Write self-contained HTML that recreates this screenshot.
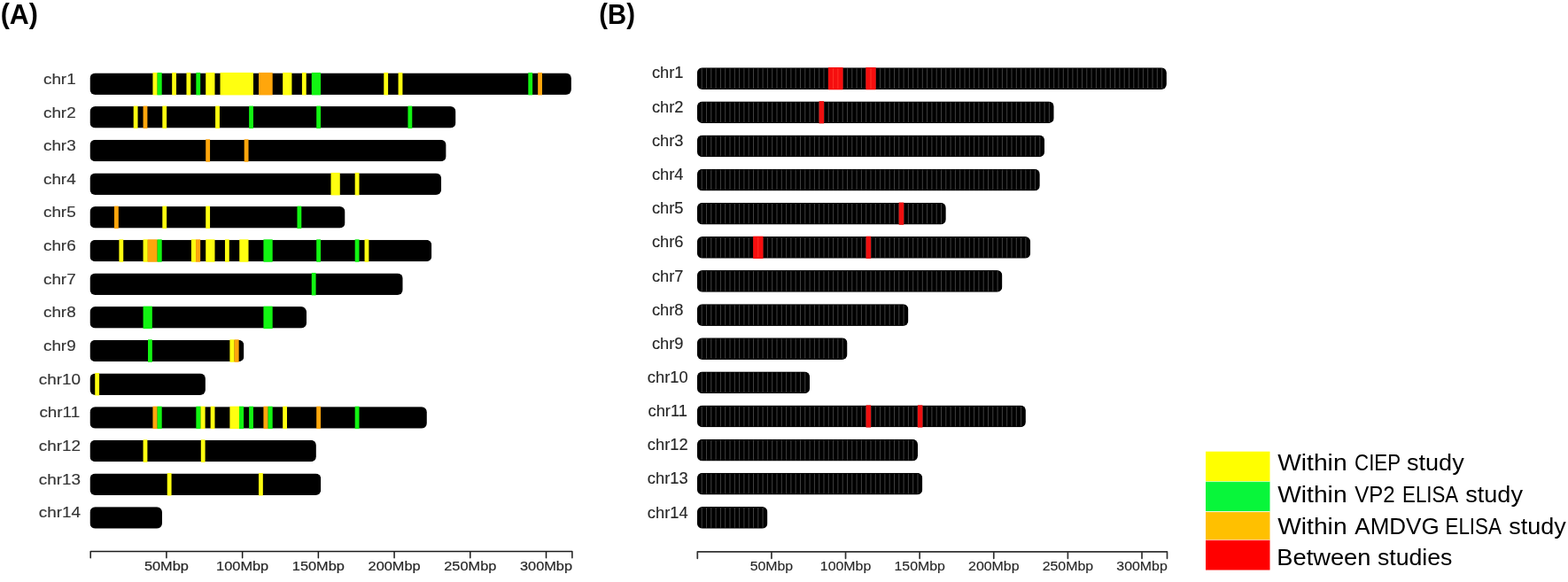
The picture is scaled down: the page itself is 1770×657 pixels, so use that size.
<!DOCTYPE html>
<html lang="en">
<head>
<meta charset="utf-8">
<title>Chromosome ideograms</title>
<style>
html,body{margin:0;padding:0;background:#fff;}
body{width:1770px;height:657px;overflow:hidden;}
svg{display:block;}
text{font-family:"Liberation Sans",sans-serif;}
.lab{fill:#333333;stroke:#333333;stroke-width:0.15px;}
.ax{fill:#262626;stroke:#262626;stroke-width:0.2px;}
.labB{fill:#262626;stroke:#262626;stroke-width:0.15px;}
.axB{fill:#262626;stroke:#262626;stroke-width:0.15px;}
.ttl{font-weight:bold;fill:#000;}
.leg{fill:#000;}
</style>
</head>
<body>
<svg width="1770" height="657" viewBox="0 0 1770 657">
<defs>
<clipPath id="cA1"><rect x="101.5" y="82.4" width="543.4" height="24.5" rx="6" ry="6"/></clipPath>
<clipPath id="cA2"><rect x="101.5" y="120.08" width="412.98" height="24.5" rx="6" ry="6"/></clipPath>
<clipPath id="cA3"><rect x="101.5" y="157.75" width="402.12" height="24.5" rx="6" ry="6"/></clipPath>
<clipPath id="cA4"><rect x="101.5" y="195.43" width="396.68" height="24.5" rx="6" ry="6"/></clipPath>
<clipPath id="cA5"><rect x="101.5" y="233.1" width="288" height="24.5" rx="6" ry="6"/></clipPath>
<clipPath id="cA6"><rect x="101.5" y="270.77" width="385.81" height="24.5" rx="6" ry="6"/></clipPath>
<clipPath id="cA7"><rect x="101.5" y="308.45" width="353.21" height="24.5" rx="6" ry="6"/></clipPath>
<clipPath id="cA8"><rect x="101.5" y="346.12" width="244.53" height="24.5" rx="6" ry="6"/></clipPath>
<clipPath id="cA9"><rect x="101.5" y="383.8" width="173.89" height="24.5" rx="6" ry="6"/></clipPath>
<clipPath id="cA10"><rect x="101.5" y="421.48" width="130.42" height="24.5" rx="6" ry="6"/></clipPath>
<clipPath id="cA11"><rect x="101.5" y="459.15" width="380.38" height="24.5" rx="6" ry="6"/></clipPath>
<clipPath id="cA12"><rect x="101.5" y="496.82" width="255.4" height="24.5" rx="6" ry="6"/></clipPath>
<clipPath id="cA13"><rect x="101.5" y="534.5" width="260.83" height="24.5" rx="6" ry="6"/></clipPath>
<clipPath id="cA14"><rect x="101.5" y="572.17" width="81.51" height="24.5" rx="6" ry="6"/></clipPath>
<clipPath id="cB1"><rect x="786.9" y="76.3" width="530" height="24.7" rx="6" ry="6"/></clipPath>
<clipPath id="cB2"><rect x="786.9" y="114.43" width="402.8" height="24.7" rx="6" ry="6"/></clipPath>
<clipPath id="cB3"><rect x="786.9" y="152.56" width="392.2" height="24.7" rx="6" ry="6"/></clipPath>
<clipPath id="cB4"><rect x="786.9" y="190.69" width="386.9" height="24.7" rx="6" ry="6"/></clipPath>
<clipPath id="cB5"><rect x="786.9" y="228.82" width="280.9" height="24.7" rx="6" ry="6"/></clipPath>
<clipPath id="cB6"><rect x="786.9" y="266.95" width="376.3" height="24.7" rx="6" ry="6"/></clipPath>
<clipPath id="cB7"><rect x="786.9" y="305.08" width="344.5" height="24.7" rx="6" ry="6"/></clipPath>
<clipPath id="cB8"><rect x="786.9" y="343.21" width="238.5" height="24.7" rx="6" ry="6"/></clipPath>
<clipPath id="cB9"><rect x="786.9" y="381.34" width="169.6" height="24.7" rx="6" ry="6"/></clipPath>
<clipPath id="cB10"><rect x="786.9" y="419.47" width="127.2" height="24.7" rx="6" ry="6"/></clipPath>
<clipPath id="cB11"><rect x="786.9" y="457.6" width="371" height="24.7" rx="6" ry="6"/></clipPath>
<clipPath id="cB12"><rect x="786.9" y="495.73" width="249.1" height="24.7" rx="6" ry="6"/></clipPath>
<clipPath id="cB13"><rect x="786.9" y="533.86" width="254.4" height="24.7" rx="6" ry="6"/></clipPath>
<clipPath id="cB14"><rect x="786.9" y="571.99" width="79.5" height="24.7" rx="6" ry="6"/></clipPath>
</defs>
<g>
<rect x="-2" y="-2" width="1774" height="661" fill="#fff"/>
<g clip-path="url(#cA1)"><rect x="101.5" y="82.4" width="543.4" height="24.5" fill="#000"/></g><g><rect x="172.44" y="81.9" width="5.28" height="25.5" fill="#ffff10"/><rect x="177.58" y="81.9" width="5.13" height="25.5" fill="#12f412"/><rect x="194.18" y="81.9" width="4.83" height="25.5" fill="#ffff10"/><rect x="210.48" y="81.9" width="4.83" height="25.5" fill="#ffff10"/><rect x="221.35" y="81.9" width="4.83" height="25.5" fill="#12f412"/><rect x="232.22" y="81.9" width="10.27" height="25.5" fill="#ffff10"/><rect x="248.52" y="81.9" width="37.44" height="25.5" fill="#ffff10"/><rect x="291.99" y="81.9" width="15.7" height="25.5" fill="#ffa60c"/><rect x="319.16" y="81.9" width="10.27" height="25.5" fill="#ffff10"/><rect x="340.9" y="81.9" width="4.83" height="25.5" fill="#ffff10"/><rect x="351.76" y="81.9" width="10.27" height="25.5" fill="#12f412"/><rect x="433.27" y="81.9" width="4.83" height="25.5" fill="#ffff10"/><rect x="449.58" y="81.9" width="4.83" height="25.5" fill="#ffff10"/><rect x="596.29" y="81.9" width="4.83" height="25.5" fill="#12f412"/><rect x="607.16" y="81.9" width="4.83" height="25.5" fill="#ffa60c"/></g>
<text class="lab" font-size="17" text-anchor="middle" transform="translate(67.3 95) scale(1.11 1)">chr1</text>
<g clip-path="url(#cA2)"><rect x="101.5" y="120.08" width="412.98" height="24.5" fill="#000"/></g><g><rect x="150.71" y="119.58" width="4.83" height="25.5" fill="#ffff10"/><rect x="161.57" y="119.58" width="4.83" height="25.5" fill="#ffa60c"/><rect x="183.31" y="119.58" width="4.83" height="25.5" fill="#ffff10"/><rect x="243.08" y="119.58" width="4.83" height="25.5" fill="#ffff10"/><rect x="281.12" y="119.58" width="4.83" height="25.5" fill="#12f412"/><rect x="357.2" y="119.58" width="4.83" height="25.5" fill="#12f412"/><rect x="460.44" y="119.58" width="4.83" height="25.5" fill="#12f412"/></g>
<text class="lab" font-size="17" text-anchor="middle" transform="translate(67.3 133) scale(1.11 1)">chr2</text>
<g clip-path="url(#cA3)"><rect x="101.5" y="157.75" width="402.12" height="24.5" fill="#000"/></g><g><rect x="232.22" y="157.25" width="4.83" height="25.5" fill="#ffa60c"/><rect x="275.69" y="157.25" width="4.83" height="25.5" fill="#ffa60c"/></g>
<text class="lab" font-size="17" text-anchor="middle" transform="translate(67.3 170) scale(1.11 1)">chr3</text>
<g clip-path="url(#cA4)"><rect x="101.5" y="195.43" width="396.68" height="24.5" fill="#000"/></g><g><rect x="373.5" y="194.93" width="10.27" height="25.5" fill="#ffff10"/><rect x="400.67" y="194.93" width="4.83" height="25.5" fill="#ffff10"/></g>
<text class="lab" font-size="17" text-anchor="middle" transform="translate(67.3 208) scale(1.11 1)">chr4</text>
<g clip-path="url(#cA5)"><rect x="101.5" y="233.1" width="288" height="24.5" fill="#000"/></g><g><rect x="128.97" y="232.6" width="4.83" height="25.5" fill="#ffa60c"/><rect x="183.31" y="232.6" width="4.83" height="25.5" fill="#ffff10"/><rect x="232.22" y="232.6" width="4.83" height="25.5" fill="#ffff10"/><rect x="335.46" y="232.6" width="4.83" height="25.5" fill="#12f412"/></g>
<text class="lab" font-size="17" text-anchor="middle" transform="translate(67.3 245) scale(1.11 1)">chr5</text>
<g clip-path="url(#cA6)"><rect x="101.5" y="270.77" width="385.81" height="24.5" fill="#000"/></g><g><rect x="134.4" y="270.27" width="4.83" height="25.5" fill="#ffff10"/><rect x="161.57" y="270.27" width="5.28" height="25.5" fill="#ffff10"/><rect x="166.71" y="270.27" width="11.02" height="25.5" fill="#ffa60c"/><rect x="177.58" y="270.27" width="5.13" height="25.5" fill="#12f412"/><rect x="215.91" y="270.27" width="5.28" height="25.5" fill="#ffff10"/><rect x="221.05" y="270.27" width="5.13" height="25.5" fill="#ffa60c"/><rect x="232.22" y="270.27" width="10.27" height="25.5" fill="#ffff10"/><rect x="253.95" y="270.27" width="4.83" height="25.5" fill="#ffff10"/><rect x="270.25" y="270.27" width="10.27" height="25.5" fill="#ffff10"/><rect x="297.42" y="270.27" width="10.27" height="25.5" fill="#12f412"/><rect x="357.2" y="270.27" width="4.83" height="25.5" fill="#12f412"/><rect x="400.67" y="270.27" width="4.83" height="25.5" fill="#12f412"/><rect x="411.54" y="270.27" width="4.83" height="25.5" fill="#ffff10"/></g>
<text class="lab" font-size="17" text-anchor="middle" transform="translate(67.3 283) scale(1.11 1)">chr6</text>
<g clip-path="url(#cA7)"><rect x="101.5" y="308.45" width="353.21" height="24.5" fill="#000"/></g><g><rect x="351.76" y="307.95" width="4.83" height="25.5" fill="#12f412"/></g>
<text class="lab" font-size="17" text-anchor="middle" transform="translate(67.3 321) scale(1.11 1)">chr7</text>
<g clip-path="url(#cA8)"><rect x="101.5" y="346.12" width="244.53" height="24.5" fill="#000"/></g><g><rect x="161.57" y="345.62" width="10.27" height="25.5" fill="#12f412"/><rect x="297.42" y="345.62" width="10.27" height="25.5" fill="#12f412"/></g>
<text class="lab" font-size="17" text-anchor="middle" transform="translate(67.3 358) scale(1.11 1)">chr8</text>
<g clip-path="url(#cA9)"><rect x="101.5" y="383.8" width="173.89" height="24.5" fill="#000"/></g><g><rect x="167.01" y="383.3" width="4.83" height="25.5" fill="#12f412"/><rect x="259.39" y="383.3" width="5.28" height="25.5" fill="#ffff10"/><rect x="264.52" y="383.3" width="5.13" height="25.5" fill="#ffa60c"/></g>
<text class="lab" font-size="17" text-anchor="middle" transform="translate(67.3 396) scale(1.11 1)">chr9</text>
<g clip-path="url(#cA10)"><rect x="101.5" y="421.48" width="130.42" height="24.5" fill="#000"/></g><g><rect x="107.23" y="420.98" width="4.83" height="25.5" fill="#ffff10"/></g>
<text class="lab" font-size="17" text-anchor="middle" transform="translate(67.3 434) scale(1.11 1)">chr10</text>
<g clip-path="url(#cA11)"><rect x="101.5" y="459.15" width="380.38" height="24.5" fill="#000"/></g><g><rect x="172.44" y="458.65" width="5.28" height="25.5" fill="#ffa60c"/><rect x="177.58" y="458.65" width="5.13" height="25.5" fill="#12f412"/><rect x="221.35" y="458.65" width="5.28" height="25.5" fill="#12f412"/><rect x="226.48" y="458.65" width="5.13" height="25.5" fill="#ffff10"/><rect x="237.65" y="458.65" width="4.83" height="25.5" fill="#ffff10"/><rect x="259.39" y="458.65" width="10.72" height="25.5" fill="#ffff10"/><rect x="269.95" y="458.65" width="5.13" height="25.5" fill="#12f412"/><rect x="281.12" y="458.65" width="4.83" height="25.5" fill="#12f412"/><rect x="297.42" y="458.65" width="5.28" height="25.5" fill="#ffa60c"/><rect x="302.56" y="458.65" width="5.13" height="25.5" fill="#12f412"/><rect x="319.16" y="458.65" width="4.83" height="25.5" fill="#ffff10"/><rect x="357.2" y="458.65" width="4.83" height="25.5" fill="#ffa60c"/><rect x="400.67" y="458.65" width="4.83" height="25.5" fill="#12f412"/></g>
<text class="lab" font-size="17" text-anchor="middle" transform="translate(67.3 471) scale(1.11 1)">chr11</text>
<g clip-path="url(#cA12)"><rect x="101.5" y="496.82" width="255.4" height="24.5" fill="#000"/></g><g><rect x="161.57" y="496.32" width="4.83" height="25.5" fill="#ffff10"/><rect x="226.78" y="496.32" width="4.83" height="25.5" fill="#ffff10"/></g>
<text class="lab" font-size="17" text-anchor="middle" transform="translate(67.3 509) scale(1.11 1)">chr12</text>
<g clip-path="url(#cA13)"><rect x="101.5" y="534.5" width="260.83" height="24.5" fill="#000"/></g><g><rect x="188.74" y="534" width="4.83" height="25.5" fill="#ffff10"/><rect x="291.99" y="534" width="4.83" height="25.5" fill="#ffff10"/></g>
<text class="lab" font-size="17" text-anchor="middle" transform="translate(67.3 547) scale(1.11 1)">chr13</text>
<g clip-path="url(#cA14)"><rect x="101.5" y="572.17" width="81.51" height="24.5" fill="#000"/></g><g></g>
<text class="lab" font-size="17" text-anchor="middle" transform="translate(67.3 584) scale(1.11 1)">chr14</text>
<path d="M102.2 629.7V622.5H645.9V629.7M187.92 622.5V629.7M273.64 622.5V629.7M359.36 622.5V629.7M445.08 622.5V629.7M530.8 622.5V629.7M616.52 622.5V629.7" stroke="#1c1c1c" stroke-width="1.5" stroke-linejoin="round" stroke-linecap="round" fill="none"/>
<text class="ax" font-size="15.5" text-anchor="middle" transform="translate(187.92 643.7) scale(1.055 1)">50Mbp</text>
<text class="ax" font-size="15.5" text-anchor="middle" transform="translate(273.64 643.7) scale(1.055 1)">100Mbp</text>
<text class="ax" font-size="15.5" text-anchor="middle" transform="translate(359.36 643.7) scale(1.055 1)">150Mbp</text>
<text class="ax" font-size="15.5" text-anchor="middle" transform="translate(445.08 643.7) scale(1.055 1)">200Mbp</text>
<text class="ax" font-size="15.5" text-anchor="middle" transform="translate(530.8 643.7) scale(1.055 1)">250Mbp</text>
<text class="ax" font-size="15.5" text-anchor="middle" transform="translate(616.52 643.7) scale(1.055 1)">300Mbp</text>
<g clip-path="url(#cB1)"><rect x="786.9" y="76.3" width="530" height="24.7" fill="#000"/><path d="M792.2 77.3V100M797.5 77.3V100M802.8 77.3V100M808.1 77.3V100M813.4 77.3V100M818.7 77.3V100M824 77.3V100M829.3 77.3V100M834.6 77.3V100M839.9 77.3V100M845.2 77.3V100M850.5 77.3V100M855.8 77.3V100M861.1 77.3V100M866.4 77.3V100M871.7 77.3V100M877 77.3V100M882.3 77.3V100M887.6 77.3V100M892.9 77.3V100M898.2 77.3V100M903.5 77.3V100M908.8 77.3V100M914.1 77.3V100M919.4 77.3V100M924.7 77.3V100M930 77.3V100M935.3 77.3V100M940.6 77.3V100M945.9 77.3V100M951.2 77.3V100M956.5 77.3V100M961.8 77.3V100M967.1 77.3V100M972.4 77.3V100M977.7 77.3V100M983 77.3V100M988.3 77.3V100M993.6 77.3V100M998.9 77.3V100M1004.2 77.3V100M1009.5 77.3V100M1014.8 77.3V100M1020.1 77.3V100M1025.4 77.3V100M1030.7 77.3V100M1036 77.3V100M1041.3 77.3V100M1046.6 77.3V100M1051.9 77.3V100M1057.2 77.3V100M1062.5 77.3V100M1067.8 77.3V100M1073.1 77.3V100M1078.4 77.3V100M1083.7 77.3V100M1089 77.3V100M1094.3 77.3V100M1099.6 77.3V100M1104.9 77.3V100M1110.2 77.3V100M1115.5 77.3V100M1120.8 77.3V100M1126.1 77.3V100M1131.4 77.3V100M1136.7 77.3V100M1142 77.3V100M1147.3 77.3V100M1152.6 77.3V100M1157.9 77.3V100M1163.2 77.3V100M1168.5 77.3V100M1173.8 77.3V100M1179.1 77.3V100M1184.4 77.3V100M1189.7 77.3V100M1195 77.3V100M1200.3 77.3V100M1205.6 77.3V100M1210.9 77.3V100M1216.2 77.3V100M1221.5 77.3V100M1226.8 77.3V100M1232.1 77.3V100M1237.4 77.3V100M1242.7 77.3V100M1248 77.3V100M1253.3 77.3V100M1258.6 77.3V100M1263.9 77.3V100M1269.2 77.3V100M1274.5 77.3V100M1279.8 77.3V100M1285.1 77.3V100M1290.4 77.3V100M1295.7 77.3V100M1301 77.3V100M1306.3 77.3V100M1311.6 77.3V100" stroke="#404040" stroke-width="1" fill="none"/></g><g><rect x="934.95" y="76" width="16.6" height="25.3" fill="#f60e0e"/><path d="M940.6 77.3V100M945.9 77.3V100" stroke="#ff3328" stroke-width="1" fill="none"/><rect x="977.35" y="76" width="11.3" height="25.3" fill="#f60e0e"/><path d="M983 77.3V100" stroke="#ff3328" stroke-width="1" fill="none"/></g>
<text class="labB" font-size="18" text-anchor="middle" transform="translate(753.7 88) scale(1.015 1)">chr1</text>
<g clip-path="url(#cB2)"><rect x="786.9" y="114.43" width="402.8" height="24.7" fill="#000"/><path d="M792.2 115.43V138.13M797.5 115.43V138.13M802.8 115.43V138.13M808.1 115.43V138.13M813.4 115.43V138.13M818.7 115.43V138.13M824 115.43V138.13M829.3 115.43V138.13M834.6 115.43V138.13M839.9 115.43V138.13M845.2 115.43V138.13M850.5 115.43V138.13M855.8 115.43V138.13M861.1 115.43V138.13M866.4 115.43V138.13M871.7 115.43V138.13M877 115.43V138.13M882.3 115.43V138.13M887.6 115.43V138.13M892.9 115.43V138.13M898.2 115.43V138.13M903.5 115.43V138.13M908.8 115.43V138.13M914.1 115.43V138.13M919.4 115.43V138.13M924.7 115.43V138.13M930 115.43V138.13M935.3 115.43V138.13M940.6 115.43V138.13M945.9 115.43V138.13M951.2 115.43V138.13M956.5 115.43V138.13M961.8 115.43V138.13M967.1 115.43V138.13M972.4 115.43V138.13M977.7 115.43V138.13M983 115.43V138.13M988.3 115.43V138.13M993.6 115.43V138.13M998.9 115.43V138.13M1004.2 115.43V138.13M1009.5 115.43V138.13M1014.8 115.43V138.13M1020.1 115.43V138.13M1025.4 115.43V138.13M1030.7 115.43V138.13M1036 115.43V138.13M1041.3 115.43V138.13M1046.6 115.43V138.13M1051.9 115.43V138.13M1057.2 115.43V138.13M1062.5 115.43V138.13M1067.8 115.43V138.13M1073.1 115.43V138.13M1078.4 115.43V138.13M1083.7 115.43V138.13M1089 115.43V138.13M1094.3 115.43V138.13M1099.6 115.43V138.13M1104.9 115.43V138.13M1110.2 115.43V138.13M1115.5 115.43V138.13M1120.8 115.43V138.13M1126.1 115.43V138.13M1131.4 115.43V138.13M1136.7 115.43V138.13M1142 115.43V138.13M1147.3 115.43V138.13M1152.6 115.43V138.13M1157.9 115.43V138.13M1163.2 115.43V138.13M1168.5 115.43V138.13M1173.8 115.43V138.13M1179.1 115.43V138.13M1184.4 115.43V138.13" stroke="#404040" stroke-width="1" fill="none"/></g><g><rect x="924.6" y="114.13" width="5.5" height="25.3" fill="#ee1010"/></g>
<text class="labB" font-size="18" text-anchor="middle" transform="translate(753.7 127) scale(1.015 1)">chr2</text>
<g clip-path="url(#cB3)"><rect x="786.9" y="152.56" width="392.2" height="24.7" fill="#000"/><path d="M792.2 153.56V176.26M797.5 153.56V176.26M802.8 153.56V176.26M808.1 153.56V176.26M813.4 153.56V176.26M818.7 153.56V176.26M824 153.56V176.26M829.3 153.56V176.26M834.6 153.56V176.26M839.9 153.56V176.26M845.2 153.56V176.26M850.5 153.56V176.26M855.8 153.56V176.26M861.1 153.56V176.26M866.4 153.56V176.26M871.7 153.56V176.26M877 153.56V176.26M882.3 153.56V176.26M887.6 153.56V176.26M892.9 153.56V176.26M898.2 153.56V176.26M903.5 153.56V176.26M908.8 153.56V176.26M914.1 153.56V176.26M919.4 153.56V176.26M924.7 153.56V176.26M930 153.56V176.26M935.3 153.56V176.26M940.6 153.56V176.26M945.9 153.56V176.26M951.2 153.56V176.26M956.5 153.56V176.26M961.8 153.56V176.26M967.1 153.56V176.26M972.4 153.56V176.26M977.7 153.56V176.26M983 153.56V176.26M988.3 153.56V176.26M993.6 153.56V176.26M998.9 153.56V176.26M1004.2 153.56V176.26M1009.5 153.56V176.26M1014.8 153.56V176.26M1020.1 153.56V176.26M1025.4 153.56V176.26M1030.7 153.56V176.26M1036 153.56V176.26M1041.3 153.56V176.26M1046.6 153.56V176.26M1051.9 153.56V176.26M1057.2 153.56V176.26M1062.5 153.56V176.26M1067.8 153.56V176.26M1073.1 153.56V176.26M1078.4 153.56V176.26M1083.7 153.56V176.26M1089 153.56V176.26M1094.3 153.56V176.26M1099.6 153.56V176.26M1104.9 153.56V176.26M1110.2 153.56V176.26M1115.5 153.56V176.26M1120.8 153.56V176.26M1126.1 153.56V176.26M1131.4 153.56V176.26M1136.7 153.56V176.26M1142 153.56V176.26M1147.3 153.56V176.26M1152.6 153.56V176.26M1157.9 153.56V176.26M1163.2 153.56V176.26M1168.5 153.56V176.26M1173.8 153.56V176.26" stroke="#404040" stroke-width="1" fill="none"/></g><g></g>
<text class="labB" font-size="18" text-anchor="middle" transform="translate(753.7 165) scale(1.015 1)">chr3</text>
<g clip-path="url(#cB4)"><rect x="786.9" y="190.69" width="386.9" height="24.7" fill="#000"/><path d="M792.2 191.69V214.39M797.5 191.69V214.39M802.8 191.69V214.39M808.1 191.69V214.39M813.4 191.69V214.39M818.7 191.69V214.39M824 191.69V214.39M829.3 191.69V214.39M834.6 191.69V214.39M839.9 191.69V214.39M845.2 191.69V214.39M850.5 191.69V214.39M855.8 191.69V214.39M861.1 191.69V214.39M866.4 191.69V214.39M871.7 191.69V214.39M877 191.69V214.39M882.3 191.69V214.39M887.6 191.69V214.39M892.9 191.69V214.39M898.2 191.69V214.39M903.5 191.69V214.39M908.8 191.69V214.39M914.1 191.69V214.39M919.4 191.69V214.39M924.7 191.69V214.39M930 191.69V214.39M935.3 191.69V214.39M940.6 191.69V214.39M945.9 191.69V214.39M951.2 191.69V214.39M956.5 191.69V214.39M961.8 191.69V214.39M967.1 191.69V214.39M972.4 191.69V214.39M977.7 191.69V214.39M983 191.69V214.39M988.3 191.69V214.39M993.6 191.69V214.39M998.9 191.69V214.39M1004.2 191.69V214.39M1009.5 191.69V214.39M1014.8 191.69V214.39M1020.1 191.69V214.39M1025.4 191.69V214.39M1030.7 191.69V214.39M1036 191.69V214.39M1041.3 191.69V214.39M1046.6 191.69V214.39M1051.9 191.69V214.39M1057.2 191.69V214.39M1062.5 191.69V214.39M1067.8 191.69V214.39M1073.1 191.69V214.39M1078.4 191.69V214.39M1083.7 191.69V214.39M1089 191.69V214.39M1094.3 191.69V214.39M1099.6 191.69V214.39M1104.9 191.69V214.39M1110.2 191.69V214.39M1115.5 191.69V214.39M1120.8 191.69V214.39M1126.1 191.69V214.39M1131.4 191.69V214.39M1136.7 191.69V214.39M1142 191.69V214.39M1147.3 191.69V214.39M1152.6 191.69V214.39M1157.9 191.69V214.39M1163.2 191.69V214.39M1168.5 191.69V214.39" stroke="#404040" stroke-width="1" fill="none"/></g><g></g>
<text class="labB" font-size="18" text-anchor="middle" transform="translate(753.7 203) scale(1.015 1)">chr4</text>
<g clip-path="url(#cB5)"><rect x="786.9" y="228.82" width="280.9" height="24.7" fill="#000"/><path d="M792.2 229.82V252.52M797.5 229.82V252.52M802.8 229.82V252.52M808.1 229.82V252.52M813.4 229.82V252.52M818.7 229.82V252.52M824 229.82V252.52M829.3 229.82V252.52M834.6 229.82V252.52M839.9 229.82V252.52M845.2 229.82V252.52M850.5 229.82V252.52M855.8 229.82V252.52M861.1 229.82V252.52M866.4 229.82V252.52M871.7 229.82V252.52M877 229.82V252.52M882.3 229.82V252.52M887.6 229.82V252.52M892.9 229.82V252.52M898.2 229.82V252.52M903.5 229.82V252.52M908.8 229.82V252.52M914.1 229.82V252.52M919.4 229.82V252.52M924.7 229.82V252.52M930 229.82V252.52M935.3 229.82V252.52M940.6 229.82V252.52M945.9 229.82V252.52M951.2 229.82V252.52M956.5 229.82V252.52M961.8 229.82V252.52M967.1 229.82V252.52M972.4 229.82V252.52M977.7 229.82V252.52M983 229.82V252.52M988.3 229.82V252.52M993.6 229.82V252.52M998.9 229.82V252.52M1004.2 229.82V252.52M1009.5 229.82V252.52M1014.8 229.82V252.52M1020.1 229.82V252.52M1025.4 229.82V252.52M1030.7 229.82V252.52M1036 229.82V252.52M1041.3 229.82V252.52M1046.6 229.82V252.52M1051.9 229.82V252.52M1057.2 229.82V252.52M1062.5 229.82V252.52" stroke="#404040" stroke-width="1" fill="none"/></g><g><rect x="1014.7" y="228.52" width="5.5" height="25.3" fill="#ee1010"/></g>
<text class="labB" font-size="18" text-anchor="middle" transform="translate(753.7 241) scale(1.015 1)">chr5</text>
<g clip-path="url(#cB6)"><rect x="786.9" y="266.95" width="376.3" height="24.7" fill="#000"/><path d="M792.2 267.95V290.65M797.5 267.95V290.65M802.8 267.95V290.65M808.1 267.95V290.65M813.4 267.95V290.65M818.7 267.95V290.65M824 267.95V290.65M829.3 267.95V290.65M834.6 267.95V290.65M839.9 267.95V290.65M845.2 267.95V290.65M850.5 267.95V290.65M855.8 267.95V290.65M861.1 267.95V290.65M866.4 267.95V290.65M871.7 267.95V290.65M877 267.95V290.65M882.3 267.95V290.65M887.6 267.95V290.65M892.9 267.95V290.65M898.2 267.95V290.65M903.5 267.95V290.65M908.8 267.95V290.65M914.1 267.95V290.65M919.4 267.95V290.65M924.7 267.95V290.65M930 267.95V290.65M935.3 267.95V290.65M940.6 267.95V290.65M945.9 267.95V290.65M951.2 267.95V290.65M956.5 267.95V290.65M961.8 267.95V290.65M967.1 267.95V290.65M972.4 267.95V290.65M977.7 267.95V290.65M983 267.95V290.65M988.3 267.95V290.65M993.6 267.95V290.65M998.9 267.95V290.65M1004.2 267.95V290.65M1009.5 267.95V290.65M1014.8 267.95V290.65M1020.1 267.95V290.65M1025.4 267.95V290.65M1030.7 267.95V290.65M1036 267.95V290.65M1041.3 267.95V290.65M1046.6 267.95V290.65M1051.9 267.95V290.65M1057.2 267.95V290.65M1062.5 267.95V290.65M1067.8 267.95V290.65M1073.1 267.95V290.65M1078.4 267.95V290.65M1083.7 267.95V290.65M1089 267.95V290.65M1094.3 267.95V290.65M1099.6 267.95V290.65M1104.9 267.95V290.65M1110.2 267.95V290.65M1115.5 267.95V290.65M1120.8 267.95V290.65M1126.1 267.95V290.65M1131.4 267.95V290.65M1136.7 267.95V290.65M1142 267.95V290.65M1147.3 267.95V290.65M1152.6 267.95V290.65M1157.9 267.95V290.65" stroke="#404040" stroke-width="1" fill="none"/></g><g><rect x="850.15" y="266.65" width="11.3" height="25.3" fill="#f60e0e"/><path d="M855.8 267.95V290.65" stroke="#ff3328" stroke-width="1" fill="none"/><rect x="977.6" y="266.65" width="5.5" height="25.3" fill="#ee1010"/></g>
<text class="labB" font-size="18" text-anchor="middle" transform="translate(753.7 279) scale(1.015 1)">chr6</text>
<g clip-path="url(#cB7)"><rect x="786.9" y="305.08" width="344.5" height="24.7" fill="#000"/><path d="M792.2 306.08V328.78M797.5 306.08V328.78M802.8 306.08V328.78M808.1 306.08V328.78M813.4 306.08V328.78M818.7 306.08V328.78M824 306.08V328.78M829.3 306.08V328.78M834.6 306.08V328.78M839.9 306.08V328.78M845.2 306.08V328.78M850.5 306.08V328.78M855.8 306.08V328.78M861.1 306.08V328.78M866.4 306.08V328.78M871.7 306.08V328.78M877 306.08V328.78M882.3 306.08V328.78M887.6 306.08V328.78M892.9 306.08V328.78M898.2 306.08V328.78M903.5 306.08V328.78M908.8 306.08V328.78M914.1 306.08V328.78M919.4 306.08V328.78M924.7 306.08V328.78M930 306.08V328.78M935.3 306.08V328.78M940.6 306.08V328.78M945.9 306.08V328.78M951.2 306.08V328.78M956.5 306.08V328.78M961.8 306.08V328.78M967.1 306.08V328.78M972.4 306.08V328.78M977.7 306.08V328.78M983 306.08V328.78M988.3 306.08V328.78M993.6 306.08V328.78M998.9 306.08V328.78M1004.2 306.08V328.78M1009.5 306.08V328.78M1014.8 306.08V328.78M1020.1 306.08V328.78M1025.4 306.08V328.78M1030.7 306.08V328.78M1036 306.08V328.78M1041.3 306.08V328.78M1046.6 306.08V328.78M1051.9 306.08V328.78M1057.2 306.08V328.78M1062.5 306.08V328.78M1067.8 306.08V328.78M1073.1 306.08V328.78M1078.4 306.08V328.78M1083.7 306.08V328.78M1089 306.08V328.78M1094.3 306.08V328.78M1099.6 306.08V328.78M1104.9 306.08V328.78M1110.2 306.08V328.78M1115.5 306.08V328.78M1120.8 306.08V328.78M1126.1 306.08V328.78" stroke="#404040" stroke-width="1" fill="none"/></g><g></g>
<text class="labB" font-size="18" text-anchor="middle" transform="translate(753.7 318) scale(1.015 1)">chr7</text>
<g clip-path="url(#cB8)"><rect x="786.9" y="343.21" width="238.5" height="24.7" fill="#000"/><path d="M792.2 344.21V366.91M797.5 344.21V366.91M802.8 344.21V366.91M808.1 344.21V366.91M813.4 344.21V366.91M818.7 344.21V366.91M824 344.21V366.91M829.3 344.21V366.91M834.6 344.21V366.91M839.9 344.21V366.91M845.2 344.21V366.91M850.5 344.21V366.91M855.8 344.21V366.91M861.1 344.21V366.91M866.4 344.21V366.91M871.7 344.21V366.91M877 344.21V366.91M882.3 344.21V366.91M887.6 344.21V366.91M892.9 344.21V366.91M898.2 344.21V366.91M903.5 344.21V366.91M908.8 344.21V366.91M914.1 344.21V366.91M919.4 344.21V366.91M924.7 344.21V366.91M930 344.21V366.91M935.3 344.21V366.91M940.6 344.21V366.91M945.9 344.21V366.91M951.2 344.21V366.91M956.5 344.21V366.91M961.8 344.21V366.91M967.1 344.21V366.91M972.4 344.21V366.91M977.7 344.21V366.91M983 344.21V366.91M988.3 344.21V366.91M993.6 344.21V366.91M998.9 344.21V366.91M1004.2 344.21V366.91M1009.5 344.21V366.91M1014.8 344.21V366.91M1020.1 344.21V366.91" stroke="#404040" stroke-width="1" fill="none"/></g><g></g>
<text class="labB" font-size="18" text-anchor="middle" transform="translate(753.7 356) scale(1.015 1)">chr8</text>
<g clip-path="url(#cB9)"><rect x="786.9" y="381.34" width="169.6" height="24.7" fill="#000"/><path d="M792.2 382.34V405.04M797.5 382.34V405.04M802.8 382.34V405.04M808.1 382.34V405.04M813.4 382.34V405.04M818.7 382.34V405.04M824 382.34V405.04M829.3 382.34V405.04M834.6 382.34V405.04M839.9 382.34V405.04M845.2 382.34V405.04M850.5 382.34V405.04M855.8 382.34V405.04M861.1 382.34V405.04M866.4 382.34V405.04M871.7 382.34V405.04M877 382.34V405.04M882.3 382.34V405.04M887.6 382.34V405.04M892.9 382.34V405.04M898.2 382.34V405.04M903.5 382.34V405.04M908.8 382.34V405.04M914.1 382.34V405.04M919.4 382.34V405.04M924.7 382.34V405.04M930 382.34V405.04M935.3 382.34V405.04M940.6 382.34V405.04M945.9 382.34V405.04M951.2 382.34V405.04" stroke="#404040" stroke-width="1" fill="none"/></g><g></g>
<text class="labB" font-size="18" text-anchor="middle" transform="translate(753.7 394) scale(1.015 1)">chr9</text>
<g clip-path="url(#cB10)"><rect x="786.9" y="419.47" width="127.2" height="24.7" fill="#000"/><path d="M792.2 420.47V443.17M797.5 420.47V443.17M802.8 420.47V443.17M808.1 420.47V443.17M813.4 420.47V443.17M818.7 420.47V443.17M824 420.47V443.17M829.3 420.47V443.17M834.6 420.47V443.17M839.9 420.47V443.17M845.2 420.47V443.17M850.5 420.47V443.17M855.8 420.47V443.17M861.1 420.47V443.17M866.4 420.47V443.17M871.7 420.47V443.17M877 420.47V443.17M882.3 420.47V443.17M887.6 420.47V443.17M892.9 420.47V443.17M898.2 420.47V443.17M903.5 420.47V443.17M908.8 420.47V443.17" stroke="#404040" stroke-width="1" fill="none"/></g><g></g>
<text class="labB" font-size="18" text-anchor="middle" transform="translate(753.7 432) scale(1.015 1)">chr10</text>
<g clip-path="url(#cB11)"><rect x="786.9" y="457.6" width="371" height="24.7" fill="#000"/><path d="M792.2 458.6V481.3M797.5 458.6V481.3M802.8 458.6V481.3M808.1 458.6V481.3M813.4 458.6V481.3M818.7 458.6V481.3M824 458.6V481.3M829.3 458.6V481.3M834.6 458.6V481.3M839.9 458.6V481.3M845.2 458.6V481.3M850.5 458.6V481.3M855.8 458.6V481.3M861.1 458.6V481.3M866.4 458.6V481.3M871.7 458.6V481.3M877 458.6V481.3M882.3 458.6V481.3M887.6 458.6V481.3M892.9 458.6V481.3M898.2 458.6V481.3M903.5 458.6V481.3M908.8 458.6V481.3M914.1 458.6V481.3M919.4 458.6V481.3M924.7 458.6V481.3M930 458.6V481.3M935.3 458.6V481.3M940.6 458.6V481.3M945.9 458.6V481.3M951.2 458.6V481.3M956.5 458.6V481.3M961.8 458.6V481.3M967.1 458.6V481.3M972.4 458.6V481.3M977.7 458.6V481.3M983 458.6V481.3M988.3 458.6V481.3M993.6 458.6V481.3M998.9 458.6V481.3M1004.2 458.6V481.3M1009.5 458.6V481.3M1014.8 458.6V481.3M1020.1 458.6V481.3M1025.4 458.6V481.3M1030.7 458.6V481.3M1036 458.6V481.3M1041.3 458.6V481.3M1046.6 458.6V481.3M1051.9 458.6V481.3M1057.2 458.6V481.3M1062.5 458.6V481.3M1067.8 458.6V481.3M1073.1 458.6V481.3M1078.4 458.6V481.3M1083.7 458.6V481.3M1089 458.6V481.3M1094.3 458.6V481.3M1099.6 458.6V481.3M1104.9 458.6V481.3M1110.2 458.6V481.3M1115.5 458.6V481.3M1120.8 458.6V481.3M1126.1 458.6V481.3M1131.4 458.6V481.3M1136.7 458.6V481.3M1142 458.6V481.3M1147.3 458.6V481.3M1152.6 458.6V481.3" stroke="#404040" stroke-width="1" fill="none"/></g><g><rect x="977.6" y="457.3" width="5.5" height="25.3" fill="#ee1010"/><rect x="1035.9" y="457.3" width="5.5" height="25.3" fill="#ee1010"/></g>
<text class="labB" font-size="18" text-anchor="middle" transform="translate(753.7 470) scale(1.015 1)">chr11</text>
<g clip-path="url(#cB12)"><rect x="786.9" y="495.73" width="249.1" height="24.7" fill="#000"/><path d="M792.2 496.73V519.43M797.5 496.73V519.43M802.8 496.73V519.43M808.1 496.73V519.43M813.4 496.73V519.43M818.7 496.73V519.43M824 496.73V519.43M829.3 496.73V519.43M834.6 496.73V519.43M839.9 496.73V519.43M845.2 496.73V519.43M850.5 496.73V519.43M855.8 496.73V519.43M861.1 496.73V519.43M866.4 496.73V519.43M871.7 496.73V519.43M877 496.73V519.43M882.3 496.73V519.43M887.6 496.73V519.43M892.9 496.73V519.43M898.2 496.73V519.43M903.5 496.73V519.43M908.8 496.73V519.43M914.1 496.73V519.43M919.4 496.73V519.43M924.7 496.73V519.43M930 496.73V519.43M935.3 496.73V519.43M940.6 496.73V519.43M945.9 496.73V519.43M951.2 496.73V519.43M956.5 496.73V519.43M961.8 496.73V519.43M967.1 496.73V519.43M972.4 496.73V519.43M977.7 496.73V519.43M983 496.73V519.43M988.3 496.73V519.43M993.6 496.73V519.43M998.9 496.73V519.43M1004.2 496.73V519.43M1009.5 496.73V519.43M1014.8 496.73V519.43M1020.1 496.73V519.43M1025.4 496.73V519.43M1030.7 496.73V519.43" stroke="#404040" stroke-width="1" fill="none"/></g><g></g>
<text class="labB" font-size="18" text-anchor="middle" transform="translate(753.7 508) scale(1.015 1)">chr12</text>
<g clip-path="url(#cB13)"><rect x="786.9" y="533.86" width="254.4" height="24.7" fill="#000"/><path d="M792.2 534.86V557.56M797.5 534.86V557.56M802.8 534.86V557.56M808.1 534.86V557.56M813.4 534.86V557.56M818.7 534.86V557.56M824 534.86V557.56M829.3 534.86V557.56M834.6 534.86V557.56M839.9 534.86V557.56M845.2 534.86V557.56M850.5 534.86V557.56M855.8 534.86V557.56M861.1 534.86V557.56M866.4 534.86V557.56M871.7 534.86V557.56M877 534.86V557.56M882.3 534.86V557.56M887.6 534.86V557.56M892.9 534.86V557.56M898.2 534.86V557.56M903.5 534.86V557.56M908.8 534.86V557.56M914.1 534.86V557.56M919.4 534.86V557.56M924.7 534.86V557.56M930 534.86V557.56M935.3 534.86V557.56M940.6 534.86V557.56M945.9 534.86V557.56M951.2 534.86V557.56M956.5 534.86V557.56M961.8 534.86V557.56M967.1 534.86V557.56M972.4 534.86V557.56M977.7 534.86V557.56M983 534.86V557.56M988.3 534.86V557.56M993.6 534.86V557.56M998.9 534.86V557.56M1004.2 534.86V557.56M1009.5 534.86V557.56M1014.8 534.86V557.56M1020.1 534.86V557.56M1025.4 534.86V557.56M1030.7 534.86V557.56M1036 534.86V557.56" stroke="#404040" stroke-width="1" fill="none"/></g><g></g>
<text class="labB" font-size="18" text-anchor="middle" transform="translate(753.7 546) scale(1.015 1)">chr13</text>
<g clip-path="url(#cB14)"><rect x="786.9" y="571.99" width="79.5" height="24.7" fill="#000"/><path d="M792.2 572.99V595.69M797.5 572.99V595.69M802.8 572.99V595.69M808.1 572.99V595.69M813.4 572.99V595.69M818.7 572.99V595.69M824 572.99V595.69M829.3 572.99V595.69M834.6 572.99V595.69M839.9 572.99V595.69M845.2 572.99V595.69M850.5 572.99V595.69M855.8 572.99V595.69M861.1 572.99V595.69" stroke="#404040" stroke-width="1" fill="none"/></g><g></g>
<text class="labB" font-size="18" text-anchor="middle" transform="translate(753.7 585) scale(1.015 1)">chr14</text>
<path d="M787.3 630.3V622.9H1317.5V630.3M870.92 622.9V630.3M954.54 622.9V630.3M1038.16 622.9V630.3M1121.78 622.9V630.3M1205.4 622.9V630.3M1289.02 622.9V630.3" stroke="#333333" stroke-width="1.7" stroke-linejoin="round" stroke-linecap="round" fill="none"/>
<text class="axB" font-size="15.5" text-anchor="middle" transform="translate(870.92 643.7) scale(1.026 1)">50Mbp</text>
<text class="axB" font-size="15.5" text-anchor="middle" transform="translate(954.54 643.7) scale(1.026 1)">100Mbp</text>
<text class="axB" font-size="15.5" text-anchor="middle" transform="translate(1038.16 643.7) scale(1.026 1)">150Mbp</text>
<text class="axB" font-size="15.5" text-anchor="middle" transform="translate(1121.78 643.7) scale(1.026 1)">200Mbp</text>
<text class="axB" font-size="15.5" text-anchor="middle" transform="translate(1205.4 643.7) scale(1.026 1)">250Mbp</text>
<text class="axB" font-size="15.5" text-anchor="middle" transform="translate(1289.02 643.7) scale(1.026 1)">300Mbp</text>
<text class="ttl" x="0.7" y="26.6" font-size="32" textLength="42.2" lengthAdjust="spacingAndGlyphs"><tspan dy="-0.75">(</tspan><tspan dy="0.75">A</tspan><tspan dy="-0.75">)</tspan></text>
<text class="ttl" x="676.3" y="26.6" font-size="32" textLength="40.6" lengthAdjust="spacingAndGlyphs"><tspan dy="-0.75">(</tspan><tspan dy="0.75">B</tspan><tspan dy="-0.75">)</tspan></text>
<rect x="1361" y="509.7" width="72.5" height="33.9" fill="#ffff00"/>
<text class="leg" y="531" font-size="26.7"><tspan x="1442.19" textLength="78.39" lengthAdjust="spacingAndGlyphs">Within</tspan> <tspan x="1529.09" textLength="51.63" lengthAdjust="spacingAndGlyphs">CIEP</tspan> <tspan x="1588.02" textLength="64.68" lengthAdjust="spacingAndGlyphs">study</tspan></text>
<rect x="1361" y="543.6" width="72.5" height="34" fill="#08f63a"/>
<text class="leg" y="567" font-size="26.7"><tspan x="1442.19" textLength="78.39" lengthAdjust="spacingAndGlyphs">Within</tspan> <tspan x="1529.24" textLength="45.4" lengthAdjust="spacingAndGlyphs">VP2</tspan> <tspan x="1583.1" textLength="61.9" lengthAdjust="spacingAndGlyphs">ELISA</tspan> <tspan x="1654.22" textLength="64.73" lengthAdjust="spacingAndGlyphs">study</tspan></text>
<rect x="1361" y="577.6" width="72.5" height="32" fill="#ffc000"/>
<text class="leg" y="603" font-size="26.7"><tspan x="1442.19" textLength="78.39" lengthAdjust="spacingAndGlyphs">Within</tspan> <tspan x="1529.33" textLength="95.35" lengthAdjust="spacingAndGlyphs">AMDVG</tspan> <tspan x="1631.47" textLength="62.26" lengthAdjust="spacingAndGlyphs">ELISA</tspan> <tspan x="1703.27" textLength="64.5" lengthAdjust="spacingAndGlyphs">study</tspan></text>
<rect x="1361" y="609.6" width="72.5" height="33.9" fill="#ff0000"/>
<text class="leg" y="638" font-size="26.7"><tspan x="1441.28" textLength="106.16" lengthAdjust="spacingAndGlyphs">Between</tspan> <tspan x="1554.89" textLength="84.53" lengthAdjust="spacingAndGlyphs">studies</tspan></text>
<rect x="1361" y="543.1" width="72.5" height="1" fill="#fff" fill-opacity="0.5"/>
<rect x="1361" y="577.1" width="72.5" height="1" fill="#fff" fill-opacity="0.85"/>
<rect x="1361" y="609.1" width="72.5" height="1" fill="#fff" fill-opacity="0.5"/>
</g>
</svg>
</body>
</html>
